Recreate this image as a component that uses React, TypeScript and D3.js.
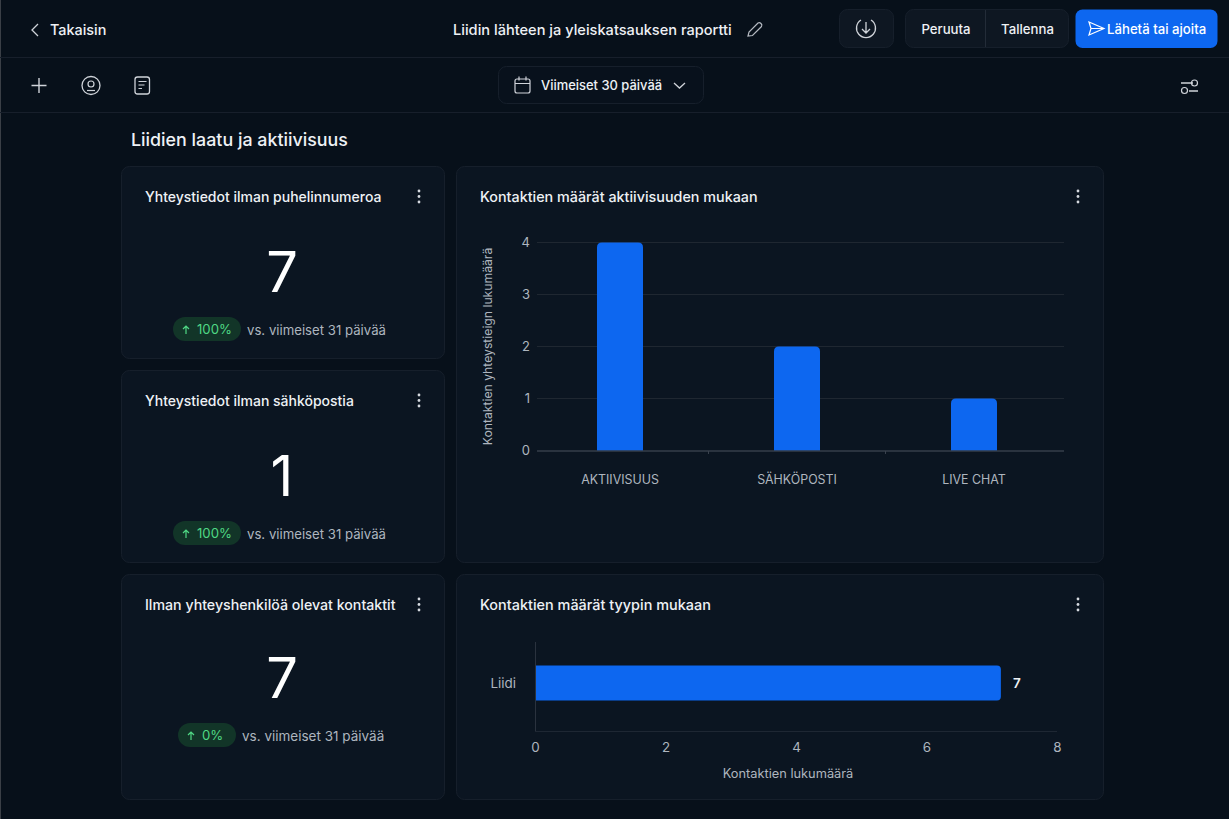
import React, { useEffect, useRef } from 'react';
import * as d3 from 'd3';

const activityCategories = ['AKTIIVISUUS', 'SÄHKÖPOSTI', 'LIVE CHAT'];
const activityValues = [4, 2, 1];
const activityTicks = [0, 1, 2, 3, 4];

const typeCategories = ['Liidi'];
// bar length as drawn in the picture, it runs a little past the 7 on the axis
const typeValues = [7.14];
const typeLabels = ['7'];
const typeTicks = [0, 2, 4, 6, 8];

const kpiTitles = ['Yhteystiedot ilman puhelinnumeroa', 'Yhteystiedot ilman sähköpostia', 'Ilman yhteyshenkilöä olevat kontaktit'];
const kpiValues = ['7', '1', '7'];
const kpiDeltas = ['100%', '100%', '0%'];

const FONT = 'Inter, "Noto Sans", sans-serif';
const BLUE = '#0d67f0';
const TEXT = '#eef1f5';
const MUTED = '#aeb5bf';
const BORDER = '#161f2b';
const CARD = '#0b1521';

const Dots = ({ x, y }: { x: number; y: number }) => (
  <g fill="#d5d9df">
    <circle cx={x} cy={y - 5.5} r={1.4} />
    <circle cx={x} cy={y} r={1.4} />
    <circle cx={x} cy={y + 5.5} r={1.4} />
  </g>
);

const Card = ({ x, y, w, h, title, tx, size }: { x: number; y: number; w: number; h: number; title: string; tx: number; size: number }) => (
  <g>
    <rect x={x + 0.5} y={y + 0.5} width={w - 1} height={h} rx={8} fill={CARD} stroke={BORDER} />
    <text x={tx} y={y + 35.5} fill={TEXT} fontSize={size} fontWeight={450}>{title}</text>
    <Dots x={x + w - 26} y={y + 30.5} />
  </g>
);

const Kpi = ({ i, y, centerY, pillX, pillW, size, vsSize }: { i: number; y: number; centerY: number; pillX: number; pillW: number; size: number; vsSize: number }) => (
  <g>
    <Card x={121} y={y} w={324} h={i === 2 ? 225 : 192} title={kpiTitles[i]} tx={145} size={size} />
    <text x={282} y={centerY} textAnchor="middle" fill="#fff" fontSize={56} fontWeight={400}>{kpiValues[i]}</text>
    <rect x={pillX} y={centerY + 25} width={pillW} height={24} rx={12} fill="#123528" />
    <path
      d={`M${pillX + 13} ${centerY + 42}v-8m-3 3l3-3l3 3`}
      fill="none" stroke="#4fd884" strokeWidth={1.2}
    />
    <text x={pillX + 24} y={centerY + 42} fill="#4fd884" fontSize={13.2}>{kpiDeltas[i]}</text>
    <text x={pillX + pillW + 6} y={centerY + 43} fill={MUTED} fontSize={vsSize}>vs. viimeiset 31 päivää</text>
  </g>
);

export default function App() {
  const barRef = useRef<SVGGElement>(null);
  const hbarRef = useRef<SVGGElement>(null);

  useEffect(() => {
    // Activity chart
    const g = d3.select(barRef.current);
    g.selectAll('*').remove();

    const x = d3.scaleBand<string>()
      .domain(activityCategories)
      .range([531.5, 1062.5])
      .paddingInner(0.74)
      .paddingOuter(0.37);
    const y = d3.scaleLinear().domain([0, 4]).range([450.5, 242.5]);

    g.append('g')
      .selectAll('line')
      .data(activityTicks.filter(d => d > 0))
      .enter()
      .append('line')
      .attr('x1', 537)
      .attr('x2', 1064)
      .attr('y1', d => y(d))
      .attr('y2', d => y(d))
      .attr('stroke', '#1f2731');

    g.selectAll('.bar')
      .data(activityValues)
      .enter()
      .append('path')
      .attr('class', 'bar')
      .attr('fill', BLUE)
      .attr('d', (d, i) => {
        const bx = x(activityCategories[i])!;
        const w = x.bandwidth();
        const top = y(d);
        const r = 5;
        return `M${bx} ${y(0)}V${top + r}Q${bx} ${top} ${bx + r} ${top}H${bx + w - r}Q${bx + w} ${top} ${bx + w} ${top + r}V${y(0)}Z`;
      });

    const yAxis = g.append('g')
      .attr('transform', 'translate(537,0)')
      .call(d3.axisLeft(y).tickValues(activityTicks).tickSize(0).tickPadding(7).tickFormat(d3.format('d')));
    yAxis.select('.domain').remove();
    yAxis.selectAll('text').attr('fill', MUTED).style('font-family', FONT).style('font-size', '13px');

    const xAxis = g.append('g')
      .attr('transform', 'translate(0,451)')
      .call(d3.axisBottom(x).tickSize(0).tickPadding(24));
    xAxis.select('.domain').remove();
    xAxis.selectAll('text').attr('fill', MUTED).style('font-family', FONT).style('font-size', '12.4px');

    g.append('line').attr('x1', 537).attr('x2', 1064).attr('y1', 451).attr('y2', 451).attr('stroke', '#4a525e');
    g.selectAll('.sep')
      .data([708.5, 885.5])
      .enter()
      .append('line')
      .attr('class', 'sep')
      .attr('x1', d => d)
      .attr('x2', d => d)
      .attr('y1', 451)
      .attr('y2', 454)
      .attr('stroke', '#3a424e');

    g.append('text')
      .attr('transform', 'translate(492,346.5) rotate(-90)')
      .attr('text-anchor', 'middle')
      .attr('fill', MUTED)
      .style('font-family', FONT)
      .style('font-size', '12.2px')
      .text('Kontaktien yhteystieign lukumäärä');
  }, []);

  useEffect(() => {
    // Type chart
    const g = d3.select(hbarRef.current);
    g.selectAll('*').remove();

    const x = d3.scaleLinear().domain([0, 8]).range([535, 1057]);
    const y = d3.scaleBand<string>()
      .domain(typeCategories)
      .range([642, 725])
      .paddingInner(0)
      .paddingOuter(0.0);
    const barH = 35;
    const cy = 683;

    g.selectAll('.bar')
      .data(typeValues)
      .enter()
      .append('path')
      .attr('class', 'bar')
      .attr('fill', BLUE)
      .attr('d', d => {
        const r = 4;
        const x0 = x(0);
        const x1 = x(d);
        const t = cy - barH / 2;
        const b = cy + barH / 2;
        return `M${x0} ${t}H${x1 - r}Q${x1} ${t} ${x1} ${t + r}V${b - r}Q${x1} ${b} ${x1 - r} ${b}H${x0}Z`;
      });

    g.selectAll('.val')
      .data(typeValues)
      .enter()
      .append('text')
      .attr('class', 'val')
      .attr('x', d => x(d) + 12)
      .attr('y', cy + 5)
      .attr('fill', TEXT)
      .style('font-family', FONT)
      .style('font-size', '13.5px')
      .style('font-weight', '600')
      .text((d, i) => typeLabels[i]);

    g.append('line').attr('x1', 535.5).attr('x2', 535.5).attr('y1', 642).attr('y2', 731).attr('stroke', '#2a323e');
    g.append('line').attr('x1', 535).attr('x2', 1057).attr('y1', 731.5).attr('y2', 731.5).attr('stroke', '#1e2733');

    const xAxis = g.append('g')
      .attr('transform', 'translate(0,731)')
      .call(d3.axisBottom(x).tickValues(typeTicks).tickSize(0).tickPadding(11).tickFormat(d3.format('d')));
    xAxis.select('.domain').remove();
    xAxis.selectAll('text').attr('fill', MUTED).style('font-family', FONT).style('font-size', '13.4px');

    const yAxis = g.append('g')
      .attr('transform', 'translate(535,0)')
      .call(d3.axisLeft(y).tickSize(0).tickPadding(19));
    yAxis.select('.domain').remove();
    yAxis.selectAll('text').attr('fill', MUTED).style('font-family', FONT).style('font-size', '13.4px');

    g.append('text')
      .attr('x', 788)
      .attr('y', 778)
      .attr('text-anchor', 'middle')
      .attr('fill', MUTED)
      .style('font-family', FONT)
      .style('font-size', '12.8px')
      .text('Kontaktien lukumäärä');
  }, []);

  return (
    <svg
      width={1229}
      height={819}
      style={{ position: 'fixed', left: 0, top: 0, background: '#07101a', fontFamily: FONT }}
    >
      <rect x={0} y={0} width={1} height={819} fill="#3a3f46" />
      <line x1={0} x2={1229} y1={57.5} y2={57.5} stroke="#171f2b" />
      <line x1={0} x2={1229} y1={112.5} y2={112.5} stroke="#171f2b" />

      {/* top bar */}
      <path d="M38 24l-6 6l6 6" fill="none" stroke="#cfd3d9" strokeWidth={1.3} />
      <text x={50} y={35} fill={TEXT} fontSize={14.4} fontWeight={450}>Takaisin</text>
      <text x={453} y={35} fill={TEXT} fontSize={14.6} fontWeight={450}>Liidin lähteen ja yleiskatsauksen raportti</text>
      <path d="M748 36l1-4l9-9q1.5-1 3 0.5t0.5 3l-9 9z" fill="none" stroke="#b5bac2" strokeWidth={1.2} />

      <rect x={839.5} y={9.5} width={54} height={38} rx={8} fill="#0e1722" stroke={BORDER} />
      <path d="M861 20a9.5 9.5 0 1 0 10 0M866 22v11m-4-4l4 4l4-4" fill="none" stroke="#cfd3d9" strokeWidth={1.3} />

      <rect x={905.5} y={9.5} width={163} height={38} rx={8} fill="#0e1722" stroke={BORDER} />
      <line x1={985.5} x2={985.5} y1={10} y2={47} stroke="#232c38" />
      <text x={946} y={33.5} textAnchor="middle" fill={TEXT} fontSize={13.2} fontWeight={450}>Peruuta</text>
      <text x={1027.5} y={33.5} textAnchor="middle" fill={TEXT} fontSize={13.2} fontWeight={450}>Tallenna</text>

      <rect x={1075.5} y={9.5} width={142} height={38.5} rx={7} fill={BLUE} />
      <path d="M1089 22l15 6.5l-15 6.5l2-6.5zM1091 28.500h13" fill="none" stroke="#fff" strokeWidth={1.2} />
      <text x={1107} y={33.5} fill="#fff" fontSize={13.2} fontWeight={450}>Lähetä tai ajoita</text>

      {/* toolbar */}
      <path d="M39 78v15M31.500 85.500h15" stroke="#cfd3d9" strokeWidth={1.4} fill="none" />
      <circle cx={91} cy={85.500} r={9} fill="none" stroke="#cfd3d9" strokeWidth={1.3} />
      <circle cx={91} cy={84} r={3} fill="none" stroke="#cfd3d9" strokeWidth={1.2} />
      <path d="M87 90.500h8" stroke="#cfd3d9" strokeWidth={1.2} />
      <rect x={135} y={77} width={14.500} height={17} rx={2.500} fill="none" stroke="#cfd3d9" strokeWidth={1.3} />
      <path d="M138.500 81.500h8M138.500 85h6M138.500 88.500h3.500" stroke="#cfd3d9" strokeWidth={1.2} />

      <rect x={498.5} y={66.5} width={205} height={37} rx={8} fill="#08111c" stroke={BORDER} />
      <rect x={515} y={79} width={15} height={14} rx={2} fill="none" stroke="#cfd3d9" strokeWidth={1.2} />
      <path d="M515 83.500h15M519 76.500v4M526 76.500v4" stroke="#cfd3d9" strokeWidth={1.2} />
      <text x={541} y={90} fill={TEXT} fontSize={12.95} fontWeight={450}>Viimeiset 30 päivää</text>
      <path d="M674 83l5.500 5l5.500-5" fill="none" stroke="#cfd3d9" strokeWidth={1.3} />

      <path d="M1181 83h12M1189 91h9" stroke="#cfd3d9" strokeWidth={1.3} />
      <circle cx={1194.500} cy={83} r={3} fill="none" stroke="#cfd3d9" strokeWidth={1.2} />
      <circle cx={1184.500} cy={90.500} r={3} fill="none" stroke="#cfd3d9" strokeWidth={1.2} />

      <text x={131} y={146} fill={TEXT} fontSize={17.85} fontWeight={450}>Liidien laatu ja aktiivisuus</text>

      <Kpi i={0} y={166} centerY={292} pillX={173} pillW={68} size={14} vsSize={13.2} />
      <Kpi i={1} y={370} centerY={496} pillX={173} pillW={68} size={14} vsSize={13.2} />
      <Kpi i={2} y={574} centerY={698} pillX={178} pillW={58} size={14.2} vsSize={13.5} />

      <Card x={456} y={166} w={648} h={396} title="Kontaktien määrät aktiivisuuden mukaan" tx={480} size={14.35} />
      <Card x={456} y={574} w={648} h={225} title="Kontaktien määrät tyypin mukaan" tx={480} size={14.45} />

      <g ref={barRef} />
      <g ref={hbarRef} />
    </svg>
  );
}
